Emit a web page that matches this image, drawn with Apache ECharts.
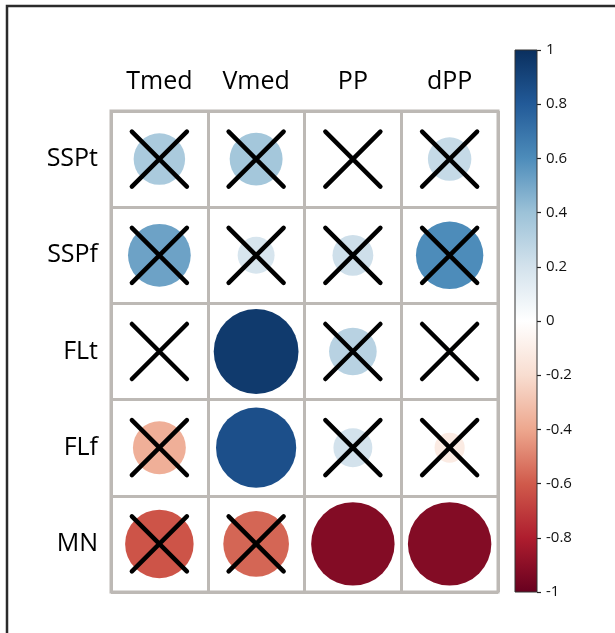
<!DOCTYPE html>
<html>
<head>
<meta charset="utf-8">
<script src="https://cdn.jsdelivr.net/npm/echarts@6/dist/echarts.min.js"></script>
<style>
html,body{margin:0;padding:0;background:#fff;}
#c{width:615px;height:633px;}
</style>
</head>
<body>
<div id="c"></div>
<script>
// ---- data ----
var rowNames = ['SSPt', 'SSPf', 'FLt', 'FLf', 'MN'];
var colNames = ['Tmed', 'Vmed', 'PP', 'dPP'];
var corrSSPt = [0.35, 0.37, 0.02, 0.25];
var corrSSPf = [0.52, 0.18, 0.22, 0.60];
var corrFLt  = [0.02, 0.95, 0.30, -0.02];
var corrFLf  = [-0.37, 0.85, 0.20, -0.12];
var corrMN   = [-0.62, -0.57, -0.92, -0.92];
// 1 = not significant (crossed)
var crossSSPt = [1, 1, 1, 1];
var crossSSPf = [1, 1, 1, 1];
var crossFLt  = [1, 0, 1, 1];
var crossFLf  = [1, 0, 1, 1];
var crossMN   = [1, 1, 0, 0];
var colorbarTicks = [-1, -0.8, -0.6, -0.4, -0.2, 0, 0.2, 0.4, 0.6, 0.8, 1];
var palette = ['#67001F', '#AE1D2E', '#D05A4B', '#EDA78E', '#F8DDD0', '#FFFFFF',
               '#D3E2EC', '#9CC2D8', '#4D8CBA', '#225A98', '#0A2F5E'];

var corrRows = [corrSSPt, corrSSPf, corrFLt, corrFLf, corrMN];
var crossRows = [crossSSPt, crossSSPf, crossFLt, crossFLf, crossMN];

var circleData = [];
var crossData = [];
corrRows.forEach(function (row, i) {
  row.forEach(function (v, j) {
    circleData.push([j, i, v]);
    if (crossRows[i][j]) crossData.push([j, i]);
  });
});

var chart = echarts.init(document.getElementById('c'), null, {renderer: 'canvas'});
var fontFam = '"Open Sans", "Noto Sans", sans-serif';

var stops = palette.map(function (c, k) {
  return {offset: 1 - k / (palette.length - 1), color: c};
});

chart.setOption({
  backgroundColor: '#fff',
  animation: false,
  graphic: [{
    type: 'rect',
    shape: {x: 7, y: 6, width: 640, height: 660},
    style: {fill: 'none', stroke: '#2b2b2b', lineWidth: 2.5},
    z: 100
  }],
  grid: [
    {left: 111, top: 111, width: 387, height: 481, show: true,
     borderColor: '#bdb9b5', borderWidth: 3},
    {left: 515, top: 50, width: 22, height: 542}
  ],
  xAxis: [
    {type: 'category', gridIndex: 0, data: colNames, position: 'top',
     boundaryGap: true,
     axisLine: {show: false}, axisTick: {show: false},
     splitLine: {show: true, interval: 0, lineStyle: {color: '#bdb9b5', width: 3}},
     axisLabel: {fontSize: 25, color: '#000', margin: 17, fontFamily: fontFam}},
    {type: 'category', gridIndex: 1, data: ['cb'], show: false}
  ],
  yAxis: [
    {type: 'category', gridIndex: 0, data: rowNames, inverse: true,
     boundaryGap: true,
     axisLine: {show: false}, axisTick: {show: false},
     splitLine: {show: true, interval: 0, lineStyle: {color: '#bdb9b5', width: 3}},
     axisLabel: {fontSize: 25, color: '#000', margin: 13, fontFamily: fontFam}},
    {type: 'value', gridIndex: 1, min: -1, max: 1, interval: 0.2, position: 'right',
     splitLine: {show: false},
     axisLine: {show: false},
     axisTick: {show: true, length: 4, lineStyle: {color: '#222', width: 1.2}},
     axisLabel: {fontSize: 15, color: '#111', margin: 9, fontFamily: fontFam,
       formatter: function (v) { return String(Math.round(v * 10) / 10); }}}
  ],
  visualMap: {
    show: false, type: 'continuous', min: -1, max: 1, dimension: 2,
    seriesIndex: 0, inRange: {color: palette}
  },
  series: [
    {
      type: 'scatter', xAxisIndex: 0, yAxisIndex: 0,
      data: circleData,
      symbol: 'circle',
      symbolSize: function (d) { return 87 * Math.sqrt(Math.abs(d[2])); },
      itemStyle: {opacity: 1},
      z: 2
    },
    {
      type: 'scatter', xAxisIndex: 0, yAxisIndex: 0,
      data: crossData,
      symbol: 'path://M0,0L10,10M10,0L0,10',
      symbolSize: 55,
      itemStyle: {color: 'none', borderColor: '#000', borderWidth: 4.5, borderCap: 'round', opacity: 1},
      z: 3
    },
    {
      type: 'custom', xAxisIndex: 1, yAxisIndex: 1,
      data: [[0, colorbarTicks[0], colorbarTicks[colorbarTicks.length - 1]]],
      renderItem: function (params, api) {
        var p1 = api.coord([api.value(0), api.value(2)]);
        var p0 = api.coord([api.value(0), api.value(1)]);
        var w = api.size([1, 0])[0];
        return {
          type: 'rect',
          shape: {x: p1[0] - w / 2, y: p1[1], width: w, height: p0[1] - p1[1]},
          style: {
            fill: new echarts.graphic.LinearGradient(0, 0, 0, 1, stops),
            stroke: '#333', lineWidth: 1
          }
        };
      }
    }
  ]
});
</script>
</body>
</html>
